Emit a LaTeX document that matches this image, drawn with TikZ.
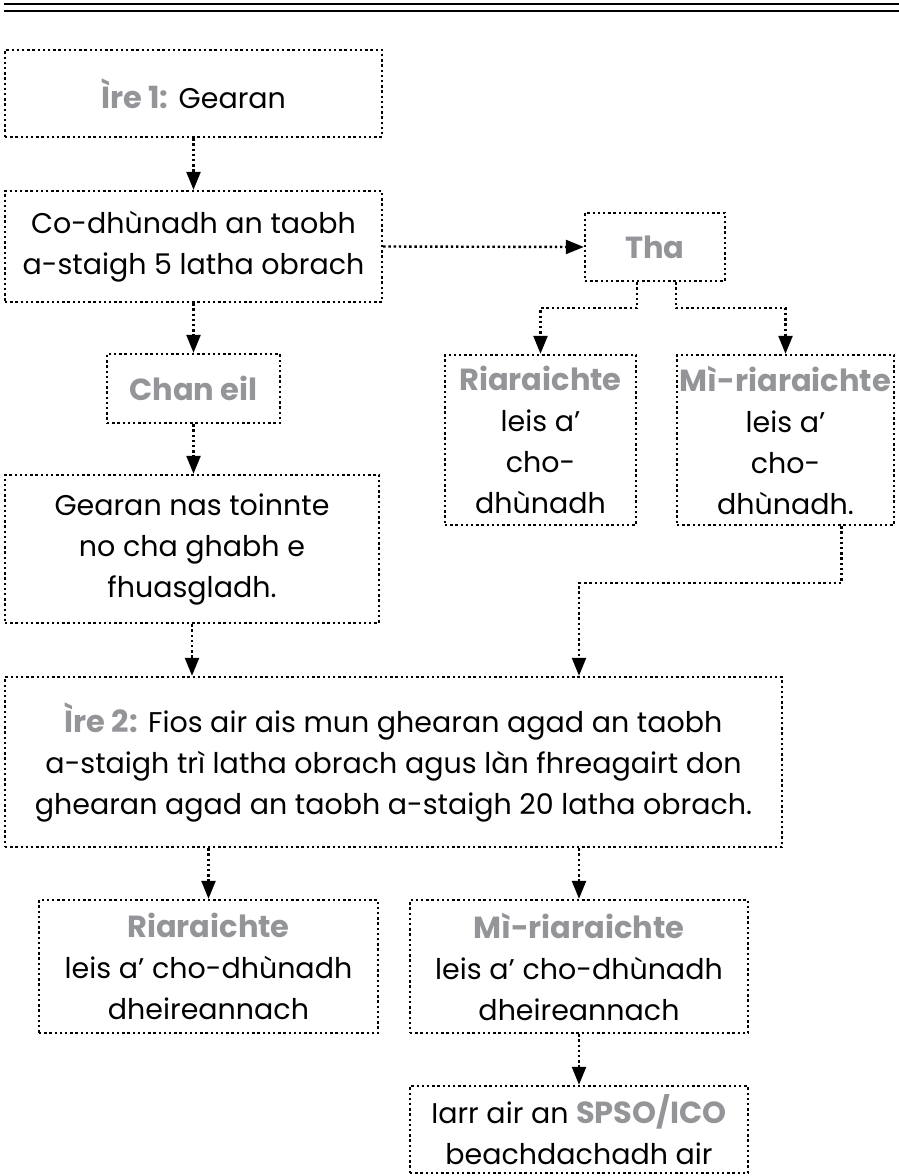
\documentclass[tikz,border=0pt]{standalone}
\usepackage{fontspec}
\setmainfont{Poppins}
\usetikzlibrary{arrows.meta}

\definecolor{stepgrey}{HTML}{939598}
\newcommand{\hl}[1]{{\fontsize{30.5}{41}\selectfont\bfseries\color{stepgrey}#1}}

\tikzset{
    flowbox/.style={draw, line width=2.4pt, dash pattern=on 2.4pt off 2.8pt,
        rectangle, inner sep=0pt, align=center,
        font=\fontsize{28.5}{41}\selectfont},
    flow/.style={line width=2.4pt, dash pattern=on 2.4pt off 2.8pt,
        -{Triangle[width=14pt,length=18pt]}}
}

\begin{document}
\begin{tikzpicture}[x=1pt, y=-1pt]
    \useasboundingbox (0,0) rectangle (899,1176);

    % double rule at the top
    \draw[line width=1.5pt] (4,4) -- (899,4);
    \draw[line width=1.5pt] (4,11) -- (899,11);

    % stage 1
    \node[flowbox, minimum width=377pt, minimum height=87pt] (stageone) at (193.5,93.5) {\hl{Ìre 1:} Gearan};
    \node[flowbox, minimum width=377pt, minimum height=111pt] (decide) at (193.5,246.5) {Co-dhùnadh an taobh\\a-staigh 5 latha obrach};
    \node[flowbox, minimum width=140pt, minimum height=68pt] (yes) at (655,247) {\hl{Tha}};
    \node[flowbox, minimum width=173pt, minimum height=69pt] (no) at (193.5,388.5) {\hl{Chan eil}};
    \node[flowbox, minimum width=191pt, minimum height=170pt] (happyone) at (540.5,440) {\hl{Riaraichte}\\leis a’\\cho-\\dhùnadh};
    \node[flowbox, minimum width=217pt, minimum height=170pt] (unhappyone) at (785.5,440) {\hl{Mì-riaraichte}\\leis a’\\cho-\\dhùnadh.};
    \node[flowbox, minimum width=374pt, minimum height=148pt] (complex) at (192,549) {Gearan nas toinnte\\no cha ghabh e\\fhuasgladh.};

    % stage 2
    \node[flowbox, minimum width=777pt, minimum height=170pt] (stagetwo) at (393.5,762) {\hl{Ìre 2:} Fios air ais mun ghearan agad an taobh\\a-staigh trì latha obrach agus làn fhreagairt don\\ghearan agad an taobh a-staigh 20 latha obrach.};
    \node[flowbox, minimum width=339pt, minimum height=133pt] (happytwo) at (208.5,966.5) {\hl{Riaraichte}\\leis a’ cho-dhùnadh\\dheireannach};
    \node[flowbox, minimum width=338pt, minimum height=133pt] (unhappytwo) at (579,966.5) {\hl{Mì-riaraichte}\\leis a’ cho-dhùnadh\\dheireannach};
    \node[flowbox, minimum width=338pt, minimum height=87pt] (spso) at (579,1129.5) {Iarr air an \hl{SPSO/ICO}\\beachdachadh air};

    % connectors
    \draw[flow] (stageone) -- (decide);
    \draw[flow] (decide.east) -- (yes.west);
    \draw[flow] (decide) -- (no);
    \draw[flow] (no.south) -- (no.south |- complex.north);
    \draw[flow] (yes.south -| happyone.east) -- ++(0,26) -| (happyone.north);
    \draw[flow] (yes.south -| unhappyone.west) -- ++(0,26) -| (unhappyone.north);
    \draw[flow] ([xshift=56pt]unhappyone.south) -- ++(0,57) -| (unhappytwo.north |- stagetwo.north);
    \draw[flow] (complex.south) -- (complex.south |- stagetwo.north);
    \draw[flow] (happytwo.north |- stagetwo.south) -- (happytwo.north);
    \draw[flow] (unhappytwo.north |- stagetwo.south) -- (unhappytwo.north);
    \draw[flow] (unhappytwo) -- (spso);
\end{tikzpicture}
\end{document}
